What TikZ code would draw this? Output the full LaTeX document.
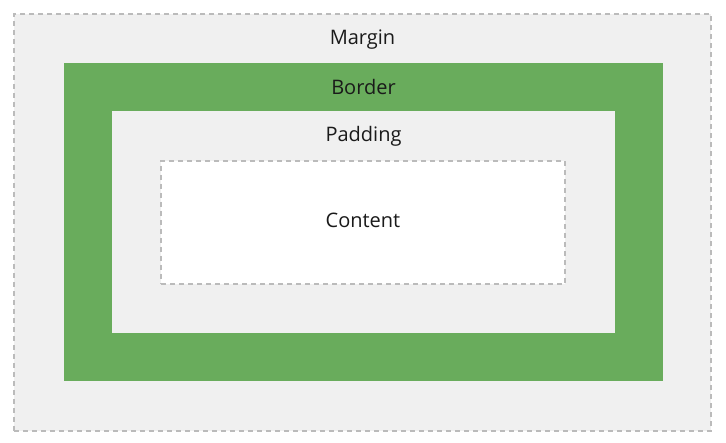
\documentclass[tikz,border=0pt]{standalone}
\usepackage{fontspec}
\setmainfont{Open Sans}
\usetikzlibrary{positioning}
\definecolor{boxgray}{HTML}{F0F0F0}
\definecolor{boxgreen}{HTML}{69AC5C}
\definecolor{dashgray}{HTML}{BBBBBB}
\definecolor{labeltext}{HTML}{1A1A1A}
\tikzset{
  layer/.style={outer sep=0pt,inner sep=0pt,anchor=north west},
  dashedbox/.style={draw=dashgray,line width=1.2pt,dash pattern=on 5pt off 4pt},
  label text/.style={inner sep=0pt,text=labeltext,font=\fontsize{20}{24}\selectfont}
}
\begin{document}
\begin{tikzpicture}[x=1pt,y=-1pt]
    \useasboundingbox (0,0) rectangle (726,443);
    \fill[white] (0,0) rectangle (726,443);

    % Schichten von aussen nach innen
    \node[layer,dashedbox,fill=boxgray,minimum width=697pt,minimum height=417pt] (margin) at (14,14) {};
    \node[layer,fill=boxgreen,minimum width=599pt,minimum height=318pt] (border) at (64,63) {};
    \node[layer,fill=boxgray,minimum width=503pt,minimum height=222pt] (padding) at (112,111) {};
    \node[layer,dashedbox,fill=white,minimum width=404pt,minimum height=123pt] (content) at (161,161) {};

    % Beschriftungen
    \node[label text] (margintext) at ([yshift=-26pt]margin.north) {Margin};
    \node[label text] (bordertext) at ([yshift=-24pt]border.north) {Border};
    \node[label text] (paddingtext) at ([yshift=-25pt]padding.north) {Padding};
    \node[label text] (contenttext) at ([yshift=2pt]content.center) {Content};
\end{tikzpicture}
\end{document}
